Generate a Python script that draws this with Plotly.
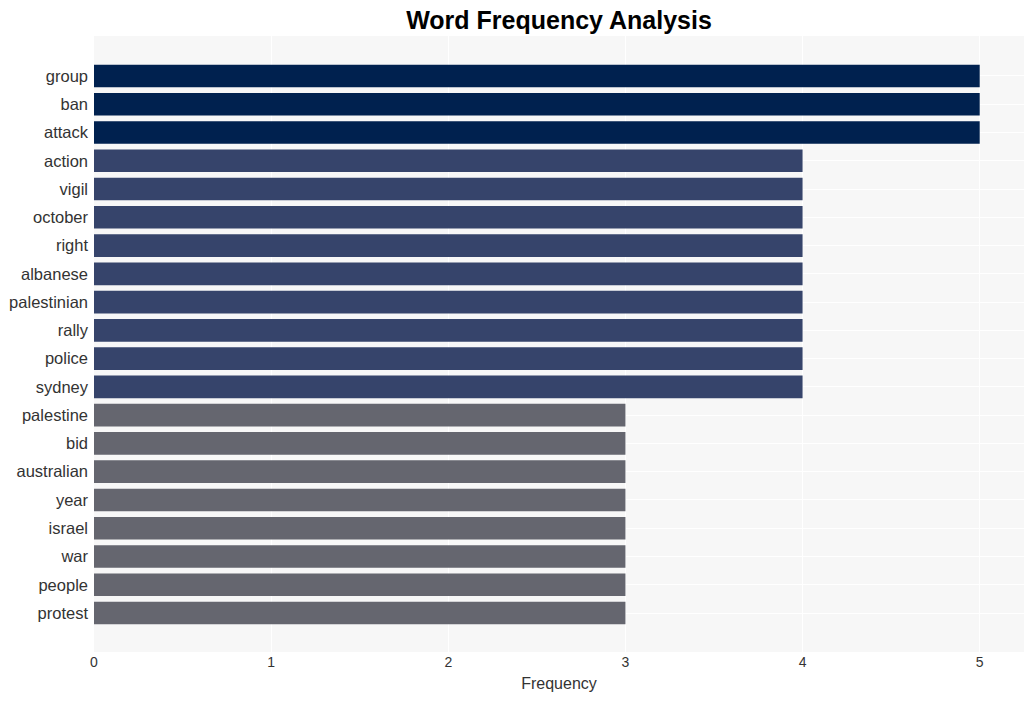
import plotly.graph_objects as go

words = ["group", "ban", "attack", "action", "vigil", "october", "right", "albanese",
         "palestinian", "rally", "police", "sydney", "palestine", "bid", "australian",
         "year", "israel", "war", "people", "protest"]
freqs = [5, 5, 5, 4, 4, 4, 4, 4, 4, 4, 4, 4, 3, 3, 3, 3, 3, 3, 3, 3]
color_by_freq = {5: "#00214f", 4: "#36446b", 3: "#65666f"}

colors = [color_by_freq[f] for f in freqs]

fig = go.Figure(go.Bar(
    x=freqs, y=words, orientation="h",
    marker=dict(color=colors, line=dict(width=0)),
    hoverinfo="x+y",
))

fig.update_layout(
    width=1034, height=701,
    margin=dict(l=94, r=10, t=36, b=49),
    paper_bgcolor="white",
    plot_bgcolor="#f7f7f7",
    font=dict(family="Liberation Sans, Arial, sans-serif", color="#333333", size=16),
    title=dict(text="<b>Word Frequency Analysis</b>", x=0.5, xref="paper", xanchor="center",
               y=0.983, yanchor="top",
               font=dict(size=25, color="black")),
    bargap=0.2,
    showlegend=False,
)
fig.update_xaxes(
    title=dict(text="Frequency", font=dict(size=16), standoff=8),
    range=[0, 5.25], tickvals=[0, 1, 2, 3, 4, 5],
    tickfont=dict(size=14),
    showgrid=True, gridcolor="white", gridwidth=1,
    zeroline=False, ticks="", showline=False,
)
fig.update_yaxes(
    categoryorder="array", categoryarray=words,
    range=[20.38, -1.415],
    tickfont=dict(size=16.5),
    ticklabelstandoff=5,
    showgrid=True, gridcolor="white", gridwidth=1,
    ticks="", ticklen=0, showline=False,
)

fig.write_html("out.html")
